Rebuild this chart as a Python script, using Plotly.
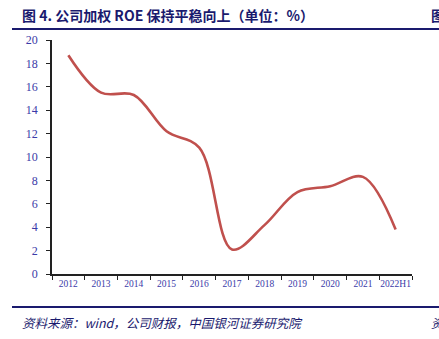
import plotly.graph_objects as go

years = ["2012", "2013", "2014", "2015", "2016", "2017", "2018", "2019", "2020", "2021", "2022H1"]
roe = [18.7, 15.5, 15.3, 12.2, 10.8, 2.1, 4.2, 7.0, 7.5, 8.3, 3.8]
y_ticks = list(range(0, 21, 2))

W, H = 439, 339
L, R, T, B = 52, 27, 40, 65
pw, ph = W - L - R, H - T - B

def px(x):
    return (x - L) / pw

def py(y):
    return (H - B - y) / ph

navy = "#1a1a6e"
tickblue = "#3a3aa8"

fig = go.Figure()
fig.add_trace(go.Scatter(
    x=years, y=roe, mode="lines",
    line=dict(color="#c0504d", width=2.6, shape="spline", smoothing=1.0),
    hoverinfo="skip", showlegend=False,
))

fig.update_layout(
    width=W, height=H,
    margin=dict(l=L, r=R, t=T, b=B),
    paper_bgcolor="white", plot_bgcolor="white",
    showlegend=False,
    xaxis=dict(
        type="category", showline=True, linecolor="#222", linewidth=1.5,
        ticks="outside", tickson="boundaries", ticklen=4, tickcolor="#222",
        showgrid=False, zeroline=False, tickangle=0,
        tickfont=dict(family="Liberation Serif", size=9.5, color=tickblue),
        range=[-0.5, len(years) - 0.5],
    ),
    yaxis=dict(
        range=[0, 20], tickvals=y_ticks, showline=True, linecolor="#222", linewidth=1.5,
        ticks="outside", ticklen=4, tickcolor="#222", showgrid=False, zeroline=False,
        ticklabelstandoff=6,
        tickfont=dict(family="Liberation Serif", size=12, color=tickblue),
    ),
    shapes=[
        dict(type="line", xref="paper", yref="paper", x0=px(12), x1=px(439), y0=py(29), y1=py(29),
             line=dict(color=navy, width=2)),
        dict(type="line", xref="paper", yref="paper", x0=px(12), x1=px(439), y0=py(307), y1=py(307),
             line=dict(color=navy, width=2)),
    ],
    annotations=[
        dict(text="<b>图 4. 公司加权 ROE 保持平稳向上（单位：%）</b>", xref="paper", yref="paper",
             x=px(20), y=py(15), xanchor="left", yanchor="middle", showarrow=False,
             font=dict(family="Noto Sans CJK SC", size=14, color=navy)),
        dict(text="<b>图</b>", xref="paper", yref="paper",
             x=px(429), y=py(15), xanchor="left", yanchor="middle", showarrow=False,
             font=dict(family="Noto Sans CJK SC", size=14, color=navy)),
        dict(text="<i>资料来源：wind，公司财报，中国银河证券研究院</i>", xref="paper", yref="paper",
             x=px(20), y=py(322), xanchor="left", yanchor="middle", showarrow=False,
             font=dict(family="Noto Sans CJK SC", size=12.5, color=navy)),
        dict(text="<i>资</i>", xref="paper", yref="paper",
             x=px(429), y=py(322), xanchor="left", yanchor="middle", showarrow=False,
             font=dict(family="Noto Sans CJK SC", size=12.5, color=navy)),
    ],
)

fig.write_html("out.html")
